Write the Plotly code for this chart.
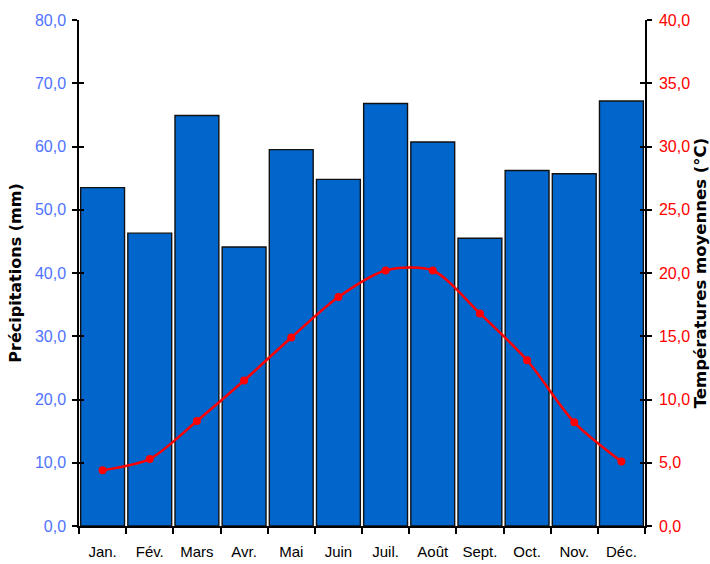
import plotly.graph_objects as go

# Monthly climate normals
mois = ["Jan.", "Fév.", "Mars", "Avr.", "Mai", "Juin",
        "Juil.", "Août", "Sept.", "Oct.", "Nov.", "Déc."]
precipitations_mm = [53.5, 46.3, 64.9, 44.1, 59.5, 54.8,
                     66.8, 60.7, 45.5, 56.2, 55.7, 67.2]
temperatures_c = [4.4, 5.3, 8.3, 11.5, 14.9, 18.1,
                  20.2, 20.2, 16.8, 13.1, 8.2, 5.1]

prec_ticks = [0, 10, 20, 30, 40, 50, 60, 70, 80]
temp_ticks = [0, 5, 10, 15, 20, 25, 30, 35, 40]

FONT = "Liberation Sans, Arial, sans-serif"
TITLE_FONT = "DejaVu Sans, Verdana, sans-serif"
BLUE_TXT = "#4f73ff"
RED = "#ff0000"

fig = go.Figure()

fig.add_trace(go.Bar(
    x=mois, y=precipitations_mm, name="Précipitations",
    marker=dict(color="#0066cc", line=dict(color="#111111", width=1.4)),
    yaxis="y",
))

fig.add_trace(go.Scatter(
    x=mois, y=temperatures_c, name="Températures",
    mode="lines+markers",
    line=dict(color=RED, width=2.5, shape="spline", smoothing=0.8),
    marker=dict(color=RED, size=8),
    yaxis="y2",
))

def fmt(v):
    return f"{v:.1f}".replace(".", ",")

fig.update_layout(
    width=710, height=564,
    margin=dict(l=79, r=65, t=20, b=38, autoexpand=False),
    paper_bgcolor="white", plot_bgcolor="white",
    showlegend=False,
    bargap=0.07,
    font=dict(family=FONT, size=15, color="black"),
    xaxis=dict(
        type="category", range=[-0.5, 11.5],
        showline=True, linecolor="black", linewidth=1.5,
        ticks="outside", ticklen=6, tickcolor="black", tickwidth=1.5,
        tickson="boundaries", showgrid=False, zeroline=False,
        ticklabelstandoff=11,
        tickfont=dict(family=FONT, size=15, color="black"),
    ),
    yaxis=dict(
        range=[0, 80], tickvals=prec_ticks,
        ticktext=[fmt(v) for v in prec_ticks],
        showline=True, linecolor="black", linewidth=1.5,
        ticks="outside", ticklen=5, tickcolor="black", tickwidth=1.5,
        showgrid=False, zeroline=False, ticklabelstandoff=3,
        tickfont=dict(family=FONT, size=16, color=BLUE_TXT),
        title=dict(text="<b>Précipitations (mm)</b>", standoff=9,
                   font=dict(family=TITLE_FONT, size=16, color="black")),
    ),
    yaxis2=dict(
        range=[0, 40], tickvals=temp_ticks,
        ticktext=[fmt(v) for v in temp_ticks],
        overlaying="y", side="right", anchor="x",
        showline=True, linecolor="black", linewidth=1.5,
        ticks="outside", ticklen=5, tickcolor="black", tickwidth=1.5,
        showgrid=False, zeroline=False, ticklabelstandoff=4,
        tickfont=dict(family=FONT, size=16, color=RED),
        title=dict(text="<b>Températures moyennes (°C)</b>", standoff=8,
                   font=dict(family=TITLE_FONT, size=16.5, color="black")),
    ),
    # inner halves of the crossing tick marks
    yaxis3=dict(
        range=[0, 80], tickvals=prec_ticks, overlaying="y", side="left",
        anchor="x", showticklabels=False, showline=False,
        ticks="inside", ticklen=5, tickcolor="black", tickwidth=1.5,
        showgrid=False, zeroline=False,
    ),
    yaxis4=dict(
        range=[0, 40], tickvals=temp_ticks, overlaying="y", side="right",
        anchor="x", showticklabels=False, showline=False,
        ticks="inside", ticklen=5, tickcolor="black", tickwidth=1.5,
        showgrid=False, zeroline=False,
    ),
)

# invisible traces so the tick-only axes are drawn
fig.add_trace(go.Scatter(x=[mois[0]], y=[0], yaxis="y3", mode="markers",
                         marker=dict(opacity=0), hoverinfo="skip"))
fig.add_trace(go.Scatter(x=[mois[0]], y=[0], yaxis="y4", mode="markers",
                         marker=dict(opacity=0), hoverinfo="skip"))

fig.write_html("out.html")
